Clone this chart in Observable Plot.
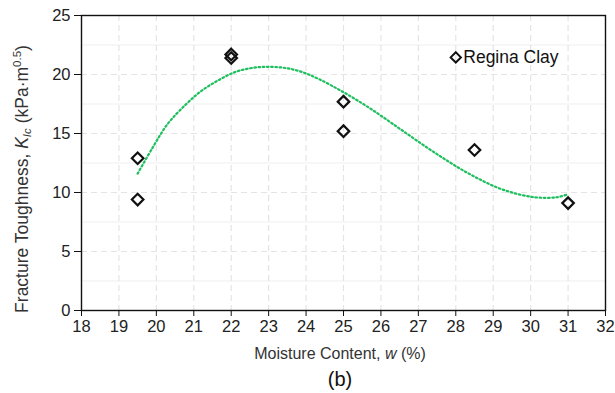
<!DOCTYPE html>
<html>
<head>
<meta charset="utf-8">
<script src="https://cdn.jsdelivr.net/npm/d3@7"></script>
<script src="https://cdn.jsdelivr.net/npm/@observablehq/plot@0.6"></script>
<style>
  html, body { margin: 0; padding: 0; background: #fff; }
  #chart { width: 615px; height: 393px; overflow: hidden; }
</style>
</head>
<body>
<div id="chart"></div>
<script>
// Measured moisture content (%) and fracture toughness (kPa·m^0.5), Regina Clay
const moisture = [19.5, 19.5, 22, 22, 25, 25, 28.5, 31];
const toughness = [12.9, 9.4, 21.7, 21.4, 17.7, 15.2, 13.6, 9.1];

// Trend curve through the measurements
const trendMoisture = [19.5, 19.9, 20.3, 20.8, 21.2, 21.65, 22.1, 22.55, 23.0, 23.45, 23.9, 24.35, 25.0, 25.7, 26.55, 27.45, 28.35, 29.25, 30.1, 30.7, 31.0];
const trendToughness = [11.6, 13.8, 15.8, 17.5, 18.6, 19.5, 20.2, 20.55, 20.65, 20.55, 20.2, 19.6, 18.5, 17.15, 15.3, 13.35, 11.6, 10.25, 9.6, 9.6, 9.85];

// Axis ticks
const xTicks = [18, 19, 20, 21, 22, 23, 24, 25, 26, 27, 28, 29, 30, 31, 32];
const yTicks = [0, 5, 10, 15, 20, 25];
const yMinorGrid = [2.5, 7.5, 12.5, 17.5, 22.5];

const seriesName = "Regina Clay";

const points = moisture.map((w, i) => ({w, k: toughness[i]}));
const trend = trendMoisture.map((w, i) => ({w, k: trendToughness[i]}));

const font = "'Liberation Sans', Arial, sans-serif";
const trendColor = "#1fbf5f";

const plot = Plot.plot({
  width: 615,
  height: 393,
  marginLeft: 81,
  marginRight: 10,
  marginTop: 15,
  marginBottom: 83,
  style: {fontFamily: font, fontSize: "16px", color: "#222", background: "#fff"},
  x: {domain: [18, 32]},
  y: {domain: [0, 25]},
  marks: [
    // gridlines
    Plot.ruleY(yMinorGrid, {stroke: "#efefef", strokeWidth: 1}),
    Plot.ruleY(yTicks, {stroke: "#e4e4e4", strokeWidth: 1.2, strokeDasharray: "6 4"}),
    Plot.ruleX(xTicks, {stroke: "#e4e4e4", strokeWidth: 1.2, strokeDasharray: "6 4"}),
    // trend
    Plot.line(trend, {x: "w", y: "k", curve: "catmull-rom", stroke: trendColor, strokeWidth: 2.2, strokeDasharray: "1.6 2.6"}),
    // measurements
    Plot.dot(points, {x: "w", y: "k", symbol: "diamond2", r: 5.2, stroke: "#111", strokeWidth: 2.2, fill: "none"}),
    // frame & axes
    Plot.frame({stroke: "#111", strokeWidth: 1.4}),
    Plot.axisX({ticks: xTicks, tickSize: 6, tickPadding: 4, label: null, stroke: "#111", fill: "#222", fontSize: 16.5}),
    Plot.axisY({ticks: yTicks, tickSize: 7, tickPadding: 4, label: null, stroke: "#111", fill: "#222", fontSize: 16.5}),
    // legend entry
    Plot.dot([{w: 28.0, k: 21.45}], {x: "w", y: "k", symbol: "diamond2", r: 4.6, stroke: "#111", strokeWidth: 2, fill: "none"}),
    Plot.text([{w: 28.2, k: 21.45}], {x: "w", y: "k", text: () => seriesName, textAnchor: "start", fontSize: 17.5, fill: "#111"})
  ]
});

const svg = d3.select(plot);
const x = plot.scale("x");
const cx = (x.apply(18) + x.apply(32)) / 2;

// y-axis title with italic symbol, subscript and superscript
const yt = svg.append("text")
  .attr("transform", "translate(28,179) rotate(-90)")
  .attr("text-anchor", "middle")
  .attr("font-family", font)
  .attr("font-size", 17.5)
  .attr("fill", "#333");
yt.append("tspan").text("Fracture Toughness, ");
yt.append("tspan").attr("font-style", "italic").text("K");
yt.append("tspan").attr("font-size", 11.5).attr("font-style", "italic").attr("dy", 3).text("Ic");
yt.append("tspan").attr("dy", -3).text(" (kPa·m");
yt.append("tspan").attr("font-size", 11.5).attr("dy", -7).text("0.5");
yt.append("tspan").attr("dy", 7).text(")");

// x-axis title
const xt = svg.append("text")
  .attr("x", cx - 3).attr("y", 359)
  .attr("text-anchor", "middle")
  .attr("font-family", font)
  .attr("font-size", 16)
  .attr("fill", "#333");
xt.append("tspan").text("Moisture Content, ");
xt.append("tspan").attr("font-style", "italic").text("w");
xt.append("tspan").text(" (%)");

// panel label
svg.append("text")
  .attr("x", cx - 3).attr("y", 386)
  .attr("text-anchor", "middle")
  .attr("font-family", font)
  .attr("font-size", 20)
  .attr("fill", "#111")
  .text("(b)");

document.getElementById("chart").append(plot);
</script>
</body>
</html>
